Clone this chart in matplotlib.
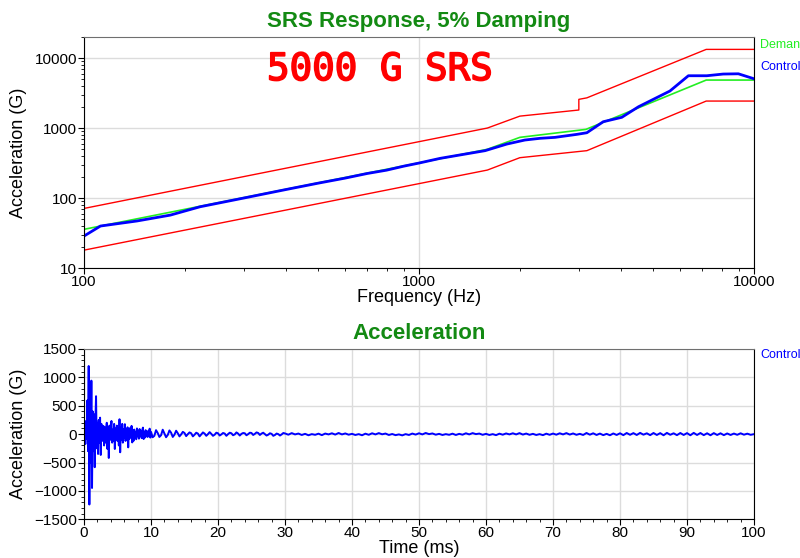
import numpy as np
import matplotlib
matplotlib.use("Agg")
import matplotlib.pyplot as plt
import matplotlib.patheffects as pe
from matplotlib.ticker import FixedLocator, FuncFormatter, MultipleLocator

plt.rcParams['font.family'] = ['Liberation Sans', 'DejaVu Sans']

# SRS spectrum (Hz, G)
demand_f = [100, 1600, 2000, 3150, 7200, 10000]
demand_g = [35.7, 497, 736, 957, 4850, 4850]

upper_f = [100, 1600, 2000, 3000, 3000, 3170, 7200, 10000]
upper_g = [71, 1000, 1480, 1810, 2570, 2700, 13300, 13300]

lower_f = [100, 1600, 2000, 3170, 7200, 10000]
lower_g = [18, 251, 377, 475, 2430, 2430]

control_f = [100, 112, 144, 181, 222, 300, 400, 500, 600, 700, 800, 900, 1000,
             1157, 1575, 1828, 2070, 2296, 2547, 2958, 3170, 3548, 4030, 4520,
             5610, 6370, 7230, 8090, 8980, 10000]
control_g = [28.6, 39.8, 47, 57, 75, 100, 132, 163, 192, 224, 250, 285, 316,
             369, 475, 590, 674, 713, 736, 812, 857, 1231, 1423, 2014,
             3380, 5590, 5590, 5910, 5960, 5060]

# time history (ms, G) - three segments with different sample spacing
acc_early = [0, 150, -175, 232, -80, 593, -300, 1200, -1240, 600,
             -500, 942, -949, 400, -300, 350, -583, 250, 668, -250,
             200, -350, 250, -150, 290, -367, 180, -120, 100, 145,
             -200, 120, -150, 80, 200, -262, 100, -420, 150, -100,
             120, 232, -150, 80, -120, 180, -262, 100, -80, 150,
             -120, 100, -200, 262, -320, 120, -100, 180, -150, 90,
             -60, 175, -120, 80, -100, 120, -233, 90, -80, 110,
             -50, 145, -146, 60, -117, 80, -60, 40, -90, 100,
             -40, 60, -80, 90, -30, 50, -70, 80, 115, -87,
             30, -60, 70, -40, 40, -50, 60, -20, 96, -61]
acc_mid = [40, -55, -30, 70, 20, -50, -20, 78, 10, -55, -15, 65, 25, -50, -10, 60,
           15, -40, -5, 40, 20, -35, 0, 30, 15, -40, -10, 25, 10, -40, -5, 30,
           10, -30, 0, 35, 5, -30, -10, 25, 15, -25, -5, 20, 10, -30, 0, 25,
           15, -20, -5, 30, 10, -25, 5, 20, 15, -20, 0, 25, 20, -15, 5, 30,
           20, -15, 10, 25, 0, -25, -10, 15, 5, -30, -15, 10, 0, -25, -5, 20]
acc_late = [12, -10, 18, -5, 10, -15, 5, -20, 0, -12,
            8, -18, 10, -5, 15, -8, 20, -5, 12, -10,
            5, -15, 0, -20, 8, -12, 15, -5, 18, -3,
            10, -15, 2, -18, -5, -22, 0, -15, 10, -8,
            15, -5, 20, 0, 12, -10, 5, -15, 0, -12,
            8, -15, 5, -10, 15, -5, 18, 0, 10, -12,
            5, -15, 0, -18, 8, -10, 12, -5, 15, -5,
            18, -8, 10, -12, 5, -15, 0, -18, 8, -12,
            10, -10, 15, -5, 18, -8, 12, -12, 5, -15,
            20, -10, 15, -15, 10, -18, 5, -20, 12, -15,
            15, -18, 20, -12, 18, -15, 22, -10, 15, -18,
            20, -15, 18, -20, 22, -12, 15, -18, 20, -15,
            18, -20, 22, -15, 20, -18, 15, -20, 18, -15,
            15, -18, 12, -15, 10, -12, 15, -10, 8, -12, 0]

t = np.concatenate([np.arange(len(acc_early)) * 0.1,
                    10 + np.arange(len(acc_mid)) * 0.25,
                    30 + np.arange(len(acc_late)) * 0.5])
acc = np.array(acc_early + acc_mid + acc_late)

title_green = '#138a13'
grid_c = '#dcdcdc'

fig = plt.figure(figsize=(8, 5.58), dpi=100)
ax1 = fig.add_axes([0.105, 0.5197, 0.8375, 0.414])
ax2 = fig.add_axes([0.105, 0.0694, 0.8375, 0.3052])


def style(ax):
    for s in ['left', 'bottom', 'right']:
        ax.spines[s].set_color('black')
    ax.spines['top'].set_color('#6f6f6f')
    ax.tick_params(which='major', direction='out', length=4, labelsize=11, pad=1)
    ax.tick_params(which='minor', direction='out', length=2)
    ax.grid(True, which='major', color=grid_c, lw=1)
    ax.set_axisbelow(True)


# top: SRS
ax1.plot(upper_f, upper_g, color='red', lw=1)
ax1.plot(lower_f, lower_g, color='red', lw=1)
ax1.plot(demand_f, demand_g, color='#22ee22', lw=1.2)
ax1.plot(control_f, control_g, color='#0000ff', lw=2)
ax1.set_xscale('log')
ax1.set_yscale('log')
ax1.set_xlim(100, 10000)
ax1.set_ylim(10, 20000)
fmt = FuncFormatter(lambda v, p: '%d' % v)
ax1.xaxis.set_major_locator(FixedLocator([100, 1000, 10000]))
ax1.yaxis.set_major_locator(FixedLocator([10, 100, 1000, 10000]))
ax1.xaxis.set_major_formatter(fmt)
ax1.yaxis.set_major_formatter(fmt)
style(ax1)
ax1.text(0.5, 1.042, 'SRS Response, 5% Damping', transform=ax1.transAxes,
         color=title_green, fontsize=16, fontweight='bold',
         ha='center', va='baseline')
ax1.set_xlabel('Frequency (Hz)', fontsize=13)
ax1.set_ylabel('Acceleration (G)', fontsize=13)
ax1.xaxis.set_label_coords(0.5, -0.091)
ax1.yaxis.set_label_coords(-0.085, 0.5)
ax1.text(0.442, 0.857, '5000 G SRS', transform=ax1.transAxes, color='red',
         fontsize=27, family='DejaVu Sans Mono', ha='center', va='center',
         path_effects=[pe.withStroke(linewidth=1.2, foreground='red')])

# bottom: time history
ax2.plot(t, acc, color='#0000ff', lw=1.4)
ax2.set_xlim(0, 100)
ax2.set_ylim(-1500, 1500)
ax2.xaxis.set_major_locator(MultipleLocator(10))
ax2.xaxis.set_minor_locator(MultipleLocator(2))
ax2.yaxis.set_major_locator(MultipleLocator(500))
ax2.yaxis.set_minor_locator(MultipleLocator(100))
style(ax2)
ax2.text(0.5, 1.0587, 'Acceleration', transform=ax2.transAxes,
         color=title_green, fontsize=16, fontweight='bold',
         ha='center', va='baseline')
ax2.set_xlabel('Time (ms)', fontsize=13)
ax2.set_ylabel('Acceleration (G)', fontsize=13)
ax2.xaxis.set_label_coords(0.5, -0.1215)
ax2.yaxis.set_label_coords(-0.085, 0.5)

# series labels to the right of the plots (cut at the edge as in the original)
fig.text(760 / 800, 1 - 45 / 558, 'Demand', color='#22ee22', fontsize=9, va='center')
fig.text(760 / 800, 1 - 67 / 558, 'Control', color='#0000ff', fontsize=9, va='center')
fig.text(760 / 800, 1 - 355 / 558, 'Control', color='#0000ff', fontsize=9, va='center')

fig.savefig('out.png', dpi=100)
